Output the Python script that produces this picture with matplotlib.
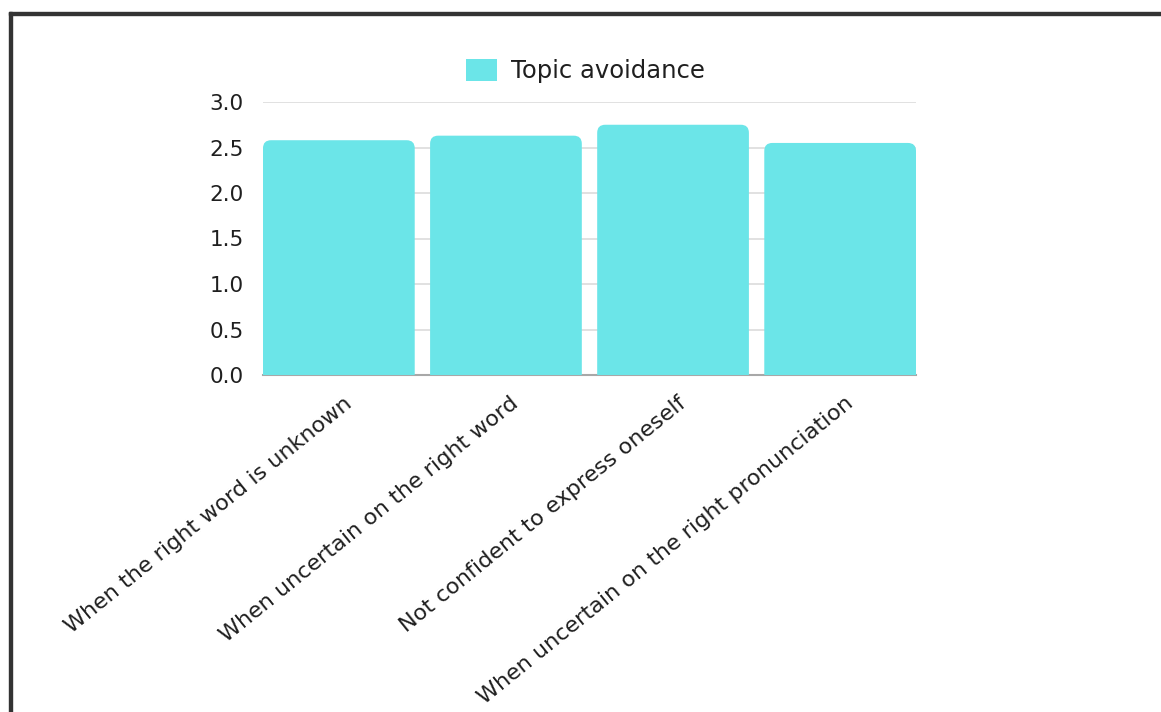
import matplotlib
matplotlib.use("Agg")
import matplotlib.pyplot as plt
from matplotlib.patches import FancyBboxPatch, Patch, Rectangle
from matplotlib.transforms import ScaledTranslation

# Данные графика
categories = [
    "When the right word is unknown",
    "When uncertain on the right word",
    "Not confident to express oneself",
    "When uncertain on the right pronunciation",
]
values = [2.58, 2.63, 2.75, 2.55]
series_name = "Topic avoidance"
y_ticks = [0.0, 0.5, 1.0, 1.5, 2.0, 2.5, 3.0]

BAR_COLOR = "#6be5e8"
TEXT_COLOR = "#1f1f1f"
W, H = 1161, 712

plt.rcParams["font.family"] = ["DejaVu Sans"]

fig = plt.figure(figsize=(W / 100, H / 100), dpi=100)
ax = fig.add_axes([263 / W, (H - 375) / H, 653 / W, 273 / H])

x = list(range(len(categories)))
bars = ax.bar(x, values, width=0.908, color=BAR_COLOR, zorder=2)

# Скругляем верхние углы: рисуем патч поверх, нижние углы уходят под ось
for b in bars:
    bx, bw, bh = b.get_x(), b.get_width(), b.get_height()
    rounded = FancyBboxPatch(
        (bx, -0.2), bw, bh + 0.2,
        boxstyle="round,pad=0,rounding_size=0.048",
        mutation_aspect=1.84,
        facecolor=BAR_COLOR, edgecolor="none", zorder=2,
    )
    ax.add_patch(rounded)
    b.set_visible(False)

ax.set_xlim(-0.454, len(categories) - 1 + 0.454)
ax.set_ylim(0, 3.0)
ax.set_yticks(y_ticks)
ax.set_yticklabels([f"{t:.1f}" for t in y_ticks])
ax.yaxis.grid(True, color="#dedede", linewidth=1.3, zorder=0)
ax.set_axisbelow(True)

for side in ("top", "right", "left"):
    ax.spines[side].set_visible(False)
ax.spines["bottom"].set_color("#a8a8a8")
ax.spines["bottom"].set_linewidth(1.5)
ax.spines["bottom"].set_zorder(1)

ax.tick_params(axis="y", length=0, pad=14, labelsize=15.5, labelcolor=TEXT_COLOR)
ax.tick_params(axis="x", length=0, pad=13, labelsize=16, labelcolor=TEXT_COLOR)
ax.set_xticks(x)
ax.set_xticklabels(categories, rotation=39, ha="right", rotation_mode="anchor")

# небольшой сдвиг подписей вправо, как в оригинале
offset = ScaledTranslation(4 / 100, 0, fig.dpi_scale_trans)
for lbl in ax.get_xticklabels():
    lbl.set_transform(lbl.get_transform() + offset)

ax.legend(
    handles=[Patch(facecolor=BAR_COLOR, label=series_name)],
    loc="center",
    bbox_to_anchor=(0.494, 1 + 31 / 273),
    frameon=False,
    fontsize=17.5,
    handlelength=1.28,
    handleheight=1.0,
    handletextpad=0.58,
    labelcolor=TEXT_COLOR,
)

# Рамка скриншота сверху и слева
fig.patches.append(Rectangle((9 / W, 0), 3 / W, (H - 12) / H,
                             transform=fig.transFigure, color="#333333"))
fig.patches.append(Rectangle((9 / W, (H - 15) / H), 1 - 9 / W, 3 / H,
                             transform=fig.transFigure, color="#333333"))

fig.savefig("out.png", dpi=100)
plt.close(fig)
